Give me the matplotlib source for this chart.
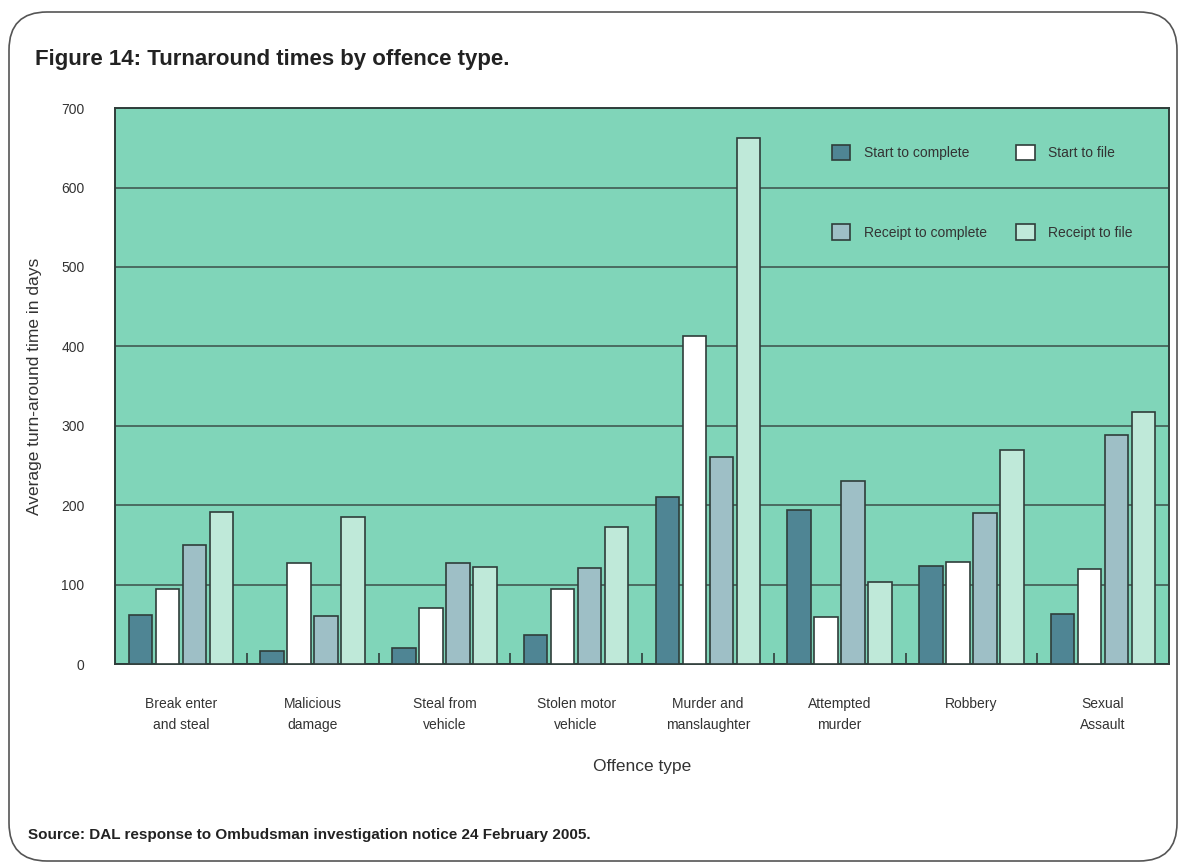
import matplotlib.pyplot as plt
import numpy as np
from matplotlib.patches import FancyBboxPatch
from matplotlib.transforms import IdentityTransform

plt.rcParams['font.family'] = ['Liberation Sans', 'DejaVu Sans']

offences = ['Break enter\nand steal', 'Malicious\ndamage', 'Steal from\nvehicle',
            'Stolen motor\nvehicle', 'Murder and\nmanslaughter', 'Attempted\nmurder',
            'Robbery', 'Sexual\nAssault']
start_to_complete = [62, 17, 20, 37, 211, 194, 124, 63]
start_to_file = [95, 127, 71, 94, 413, 59, 128, 120]
receipt_to_complete = [150, 61, 127, 121, 261, 231, 190, 288]
receipt_to_file = [191, 185, 122, 173, 662, 104, 269, 317]

series = [('Start to complete', start_to_complete, '#4f8594'),
          ('Start to file', start_to_file, '#ffffff'),
          ('Receipt to complete', receipt_to_complete, '#9ebfc6'),
          ('Receipt to file', receipt_to_file, '#bfe9d9')]

fig = plt.figure(figsize=(11.82, 8.67), dpi=100)
ax = fig.add_axes([0.0973, 0.234, 0.8917, 0.6413])

x = np.arange(len(offences))
width = 0.18
step = 0.205
handles = {}
for i, (name, vals, col) in enumerate(series):
    bars = ax.bar(x + (i - 1.5) * step, vals, width, color=col,
                  edgecolor='#2f3d3a', linewidth=1.2, zorder=3, label=name)
    handles[name] = bars

ax.set_facecolor('#80d5b9')
ax.set_xlim(-0.5, len(offences) - 0.5)
ax.set_ylim(0, 700)
ax.set_yticks(range(0, 701, 100))
ax.yaxis.grid(True, color='#3b4f49', linewidth=1.1, zorder=1)
ax.set_axisbelow(True)
for s in ax.spines.values():
    s.set_color('#2f3d3a')
    s.set_linewidth(1.4)

ax.set_xticks(x)
ax.set_xticklabels(offences, fontsize=10, color='#333333', linespacing=1.55)
ax.tick_params(axis='x', length=0, pad=24)
ax.set_xticks(np.arange(0.5, len(offences) - 0.5, 1), minor=True)
ax.tick_params(axis='x', which='minor', direction='in', length=8, width=1.2, color='#2f3d3a')
ax.tick_params(axis='y', length=0, pad=22, labelsize=10, labelcolor='#333333')

ax.set_xlabel('Offence type', fontsize=12.5, color='#333333', labelpad=20)
ax.set_ylabel('Average turn-around time in days', fontsize=12.5, color='#333333', labelpad=14)

order = ['Start to complete', 'Receipt to complete', 'Start to file', 'Receipt to file']
leg = ax.legend([handles[n] for n in order], order, ncol=2, loc='upper left',
                bbox_to_anchor=(0.68, 0.934), borderaxespad=0, borderpad=0,
                frameon=False, fontsize=10, labelspacing=4.6, columnspacing=2.1,
                handlelength=1.35, handleheight=1.35, handletextpad=0.95)
for t in leg.get_texts():
    t.set_color('#333333')

fig.text(0.0296, 0.931, 'Figure 14: Turnaround times by offence type.',
         fontsize=16, fontweight='bold', color='#222222', va='center')
fig.text(0.024, 0.037, 'Source: DAL response to Ombudsman investigation notice 24 February 2005.',
         fontsize=11, fontweight='bold', color='#222222', va='center')

frame = FancyBboxPatch((9, 6), 1168, 849, boxstyle='round,pad=0,rounding_size=38',
                       transform=IdentityTransform(), facecolor='none',
                       edgecolor='#555555', linewidth=1.2)
fig.add_artist(frame)

fig.savefig('out.png', dpi=100)
